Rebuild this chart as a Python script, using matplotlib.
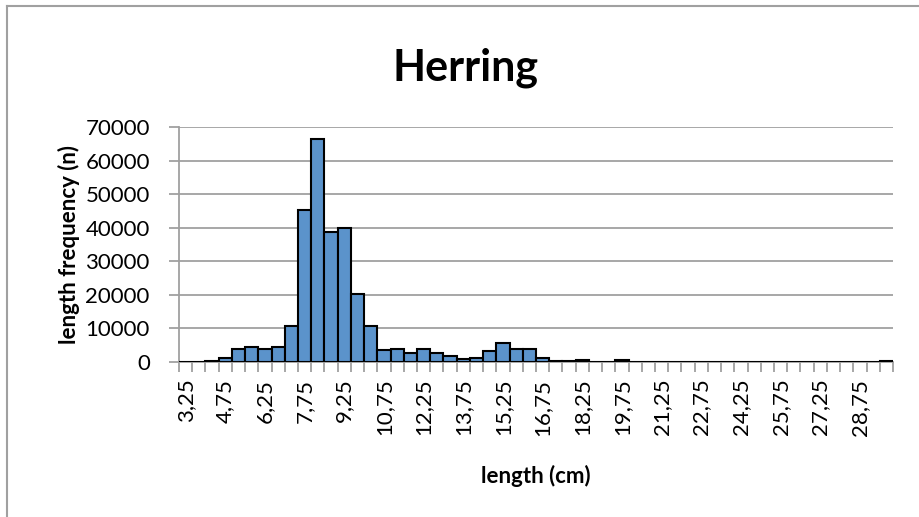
import numpy as np
import matplotlib
matplotlib.use("Agg")
from matplotlib import pyplot as plt
from matplotlib.lines import Line2D

# length classes (cm) and counts
lengths = np.arange(3.25, 29.76, 0.5)
counts = [0, 0, 200, 1200, 4000, 4400, 4000, 4400, 10600, 45200,
          66500, 38700, 39800, 20400, 10800, 3600, 3800, 2700, 4000, 2700,
          1700, 800, 1200, 3200, 5700, 3900, 3900, 1100, 400, 300,
          500, 100, 100, 500, 100, 0, 0, 0, 0, 0,
          0, 0, 0, 0, 0, 0, 0, 0, 0, 0,
          0, 0, 0, 200]
yticks = [0, 10000, 20000, 30000, 40000, 50000, 60000, 70000]

plt.rcParams['font.family'] = ['Lato', 'DejaVu Sans']
GRID = '#a0a0a0'

W, H = 919, 517
fig = plt.figure(figsize=(W / 100, H / 100), dpi=100)
ax = fig.add_axes([179 / W, 1 - 362 / H, 714 / W, 235 / H])

x = np.arange(len(lengths))
ax.bar(x, counts, width=1.0, color='#5b93cb', edgecolor='black', linewidth=1.5, zorder=3)

ax.set_xlim(-0.5, len(lengths) - 0.5)
ax.set_ylim(0, 70000)
ax.set_yticks(yticks)
ax.set_yticklabels([str(v) for v in yticks], fontsize=16)
ax.yaxis.grid(True, color=GRID, linewidth=1.3, zorder=0)

# labels every third class, tick marks on every class boundary
lab_idx = x[::3]
ax.set_xticks(lab_idx)
ax.set_xticklabels([('%.2f' % lengths[i]).replace('.', ',') for i in lab_idx],
                   rotation=90, fontsize=16)
ax.tick_params(axis='x', which='major', length=0, pad=12)
ax.set_xticks(np.arange(-0.5, len(lengths)), minor=True)
ax.tick_params(axis='x', which='minor', length=7, width=1.3, color=GRID, direction='out')
ax.tick_params(axis='y', length=7, width=1.3, color=GRID, pad=14)

for s in ['top', 'right']:
    ax.spines[s].set_visible(False)
for s in ['left', 'bottom']:
    ax.spines[s].set_color(GRID)
    ax.spines[s].set_linewidth(1.3)

ax.set_xlabel('length (cm)', fontsize=16, fontweight='bold', labelpad=21)
ax.set_ylabel('length frequency (n)', fontsize=16, fontweight='bold', labelpad=4)
fig.text(466 / W, 1 - 68 / H, 'Herring', fontsize=31, fontweight='bold',
         ha='center', va='center')

# chart area border (runs off the right and bottom of the picture)
fig.add_artist(Line2D([7 / W, 1], [1 - 6 / H, 1 - 6 / H], color=GRID, linewidth=1.5))
fig.add_artist(Line2D([7 / W, 7 / W], [0, 1 - 6 / H], color=GRID, linewidth=1.5))

fig.savefig('out.png', dpi=100)
